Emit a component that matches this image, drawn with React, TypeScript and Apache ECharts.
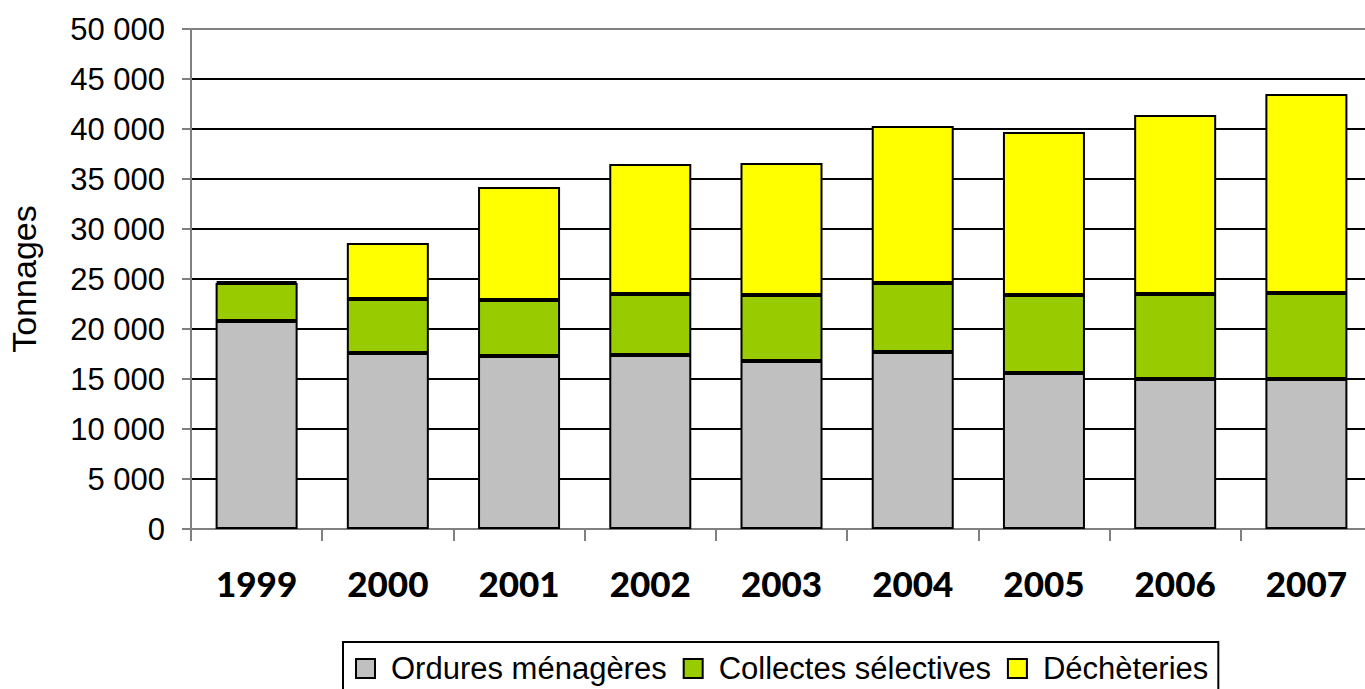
import React, { useEffect, useRef } from "react";
import * as echarts from "echarts";

const years = ["1999", "2000", "2001", "2002", "2003", "2004", "2005", "2006", "2007"];
const ordures = [20800, 17600, 17300, 17400, 16800, 17700, 15600, 15000, 15000];
const collectes = [3800, 5400, 5600, 6100, 6600, 6900, 7800, 8500, 8600];
const decheteries = [200, 5600, 11300, 13000, 13200, 15700, 16300, 17900, 19900];
const seriesNames = ["Ordures ménagères", "Collectes sélectives", "Déchèteries"];
const seriesColors = ["#C0C0C0", "#99CC00", "#FFFF00"];

export default function App() {
  const ref = useRef<HTMLDivElement>(null);
  useEffect(() => {
    if (!ref.current) return;
    const chart = echarts.init(ref.current, undefined, { renderer: "svg" });
    const data = [ordures, collectes, decheteries];
    const splitColors = Array.from({ length: 10 }, () => "#000000").concat(["#808080"]);
    chart.setOption({
      animation: false,
      backgroundColor: "#ffffff",
      grid: {
        left: 191,
        width: 1181,
        top: 29,
        bottom: 160,
        containLabel: false,
        outerBoundsMode: "none",
      },
      legend: {
        left: 343,
        top: 642,
        padding: [11, 10, 14, 12],
        borderColor: "#000",
        borderWidth: 2,
        itemWidth: 19,
        itemHeight: 19,
        itemGap: 16,
        icon: "rect",
        textStyle: {
          fontFamily: "Liberation Sans, Arial, sans-serif",
          fontSize: 31,
          color: "#000",
          padding: [0, 0, 0, 11],
        },
        data: seriesNames,
      },
      xAxis: {
        type: "category",
        data: years,
        axisLine: { lineStyle: { color: "#808080", width: 2 } },
        axisTick: { show: true, length: 12, lineStyle: { color: "#808080", width: 2 } },
        axisLabel: {
          margin: 36,
          fontFamily: "Lato",
          fontWeight: 900,
          fontSize: 35,
          color: "#000",
        },
      },
      yAxis: {
        type: "value",
        min: 0,
        max: 50000,
        interval: 5000,
        name: "Tonnages",
        nameLocation: "middle",
        nameGap: 150,
        nameRotate: 90,
        nameTextStyle: { fontFamily: "Liberation Sans, Arial, sans-serif", fontSize: 34, color: "#000" },
        axisLine: { show: true, lineStyle: { color: "#808080", width: 2 } },
        axisTick: { show: true, length: 9, lineStyle: { color: "#808080", width: 2 } },
        axisLabel: {
          margin: 26,
          fontFamily: "Liberation Sans, Arial, sans-serif",
          fontSize: 31,
          color: "#000",
          formatter: (v: number) => v.toLocaleString("fr-FR").replace(/\s/g, " "),
        },
        splitLine: { show: true, lineStyle: { color: splitColors, width: 2 } },
      },
      series: seriesNames.map((name, i) => ({
        name,
        type: "bar",
        stack: "total",
        barWidth: "62.5%",
        data: data[i],
        itemStyle: { color: seriesColors[i], borderColor: "#000", borderWidth: 2 },
      })),
    });
    return () => chart.dispose();
  }, []);
  return (
    <div
      ref={ref}
      style={{ position: "fixed", left: 0, top: 0, width: 1365, height: 689 }}
    />
  );
}
